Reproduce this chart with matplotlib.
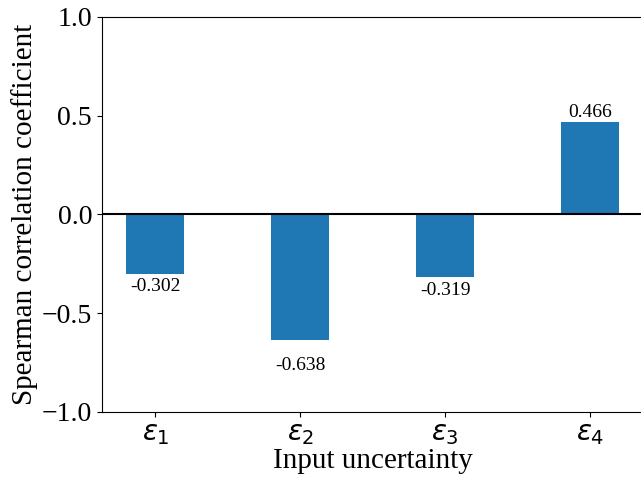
import numpy as np
import matplotlib
matplotlib.use("Agg")
import matplotlib.pyplot as plt

plt.rcParams['font.family'] = ['Liberation Serif', 'DejaVu Serif']
plt.rcParams['mathtext.fontset'] = 'dejavusans'

labels = [r'$\epsilon_1$', r'$\epsilon_2$', r'$\epsilon_3$', r'$\epsilon_4$']
rho = [-0.302, -0.638, -0.319, 0.466]

fig = plt.figure(figsize=(6.41, 4.79), dpi=100)
# the right edge of the axes falls just outside the figure
ax = fig.add_axes([0.1587, 0.14, 0.846, 0.8246])
ax.spines['right'].set_visible(False)

x = np.arange(len(rho))
ax.bar(x, rho, width=0.4, color='#1f77b4')
ax.axhline(0, color='black', lw=1.5)

for xi, v in zip(x, rho):
    if v >= 0:
        ax.text(xi, v + 0.005, '%.3f' % v, ha='center', va='bottom', fontsize=14)
    else:
        ax.text(xi, v * 1.2, '%.3f' % v, ha='center', va='center', fontsize=14)

ax.set_ylim(-1, 1)
ax.set_yticks([-1.0, -0.5, 0.0, 0.5, 1.0])
ax.set_xticks(x)
ax.set_xticklabels(labels)
ax.tick_params(axis='both', labelsize=20)
ax.set_xlabel('Input uncertainty', fontsize=21, labelpad=1)
ax.set_ylabel('Spearman correlation coefficient', fontsize=21, labelpad=3)

fig.savefig('out.png', dpi=100)
